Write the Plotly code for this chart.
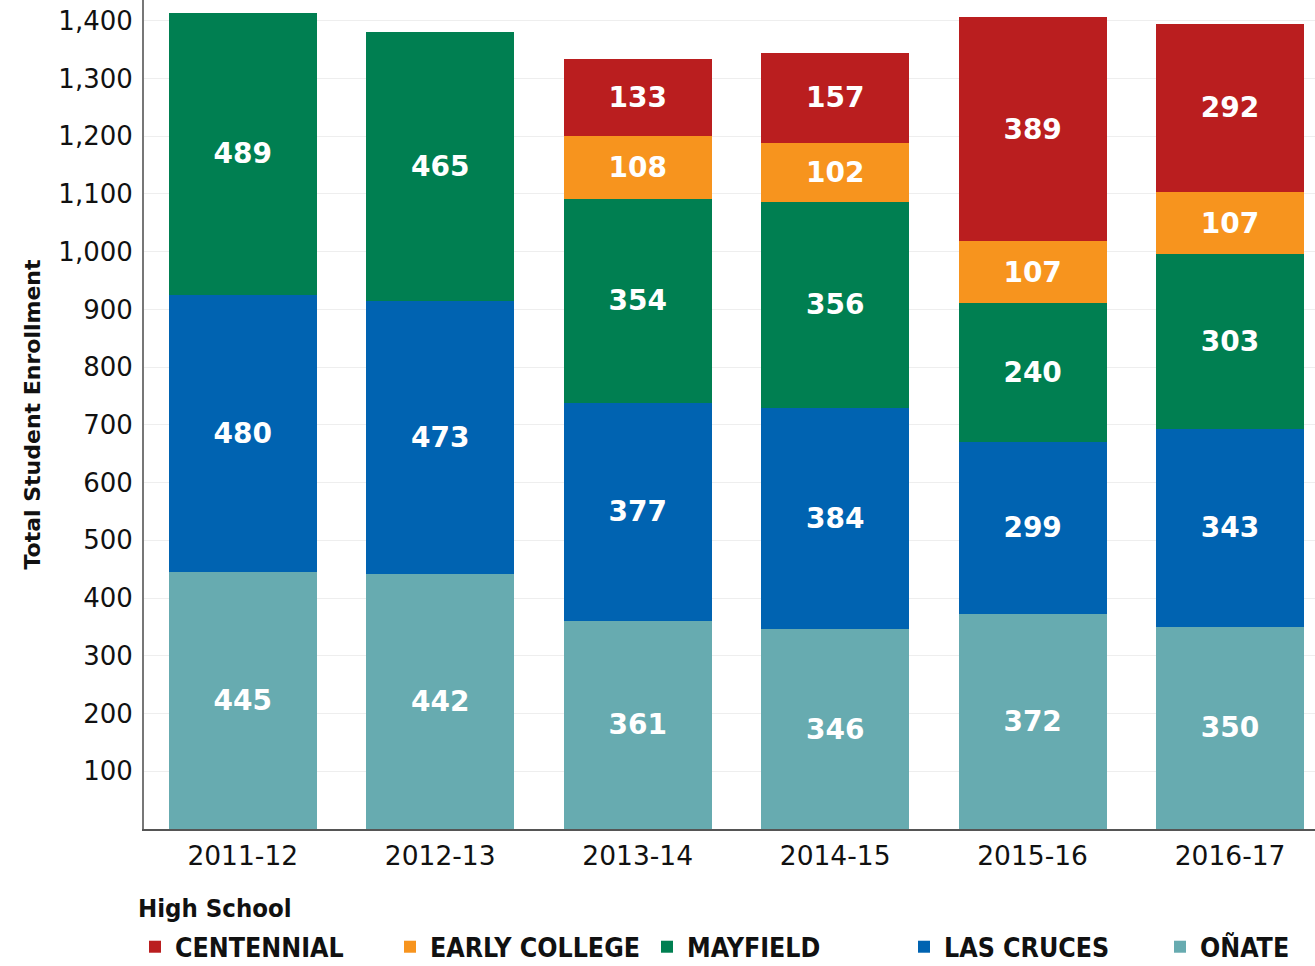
import plotly.graph_objects as go

years = ["2011-12", "2012-13", "2013-14", "2014-15", "2015-16", "2016-17"]
onate = [445, 442, 361, 346, 372, 350]
las_cruces = [480, 473, 377, 384, 299, 343]
mayfield = [489, 465, 354, 356, 240, 303]
early_college = [None, None, 108, 102, 107, 107]
centennial = [None, None, 133, 157, 389, 292]

series = [
    ("OÑATE", onate, "#67ABB0"),
    ("LAS CRUCES", las_cruces, "#0063B1"),
    ("MAYFIELD", mayfield, "#007F51"),
    ("EARLY COLLEGE", early_college, "#F7941E"),
    ("CENTENNIAL", centennial, "#BA1E1F"),
]
# legend slot (left to right) for each series
legend_slot = {"CENTENNIAL": 0, "EARLY COLLEGE": 1, "MAYFIELD": 2, "LAS CRUCES": 3, "OÑATE": 4}
legend_px = [135, 390, 647, 904, 1160]

PLOT_L, PLOT_W, PLOT_H = 144, 1171, 829

fig = go.Figure()
layout_legends = {}
for name, vals, color in series:
    slot = legend_slot[name]
    key = "legend" if slot == 0 else f"legend{slot + 1}"
    fig.add_trace(go.Bar(
        x=years, y=vals, name=name, legend=key,
        marker=dict(color=color, line=dict(width=0)),
        text=[("" if v is None else str(v)) for v in vals],
        textposition="inside", insidetextanchor="middle",
        textfont=dict(family="DejaVu Sans", size=28, color="white", weight="bold"),
        hoverinfo="skip",
    ))
    layout_legends[key] = dict(
        orientation="h", x=(legend_px[slot] - PLOT_L) / PLOT_W, xanchor="left",
        y=(PLOT_H - 947) / PLOT_H, yanchor="middle",
        font=dict(family="DejaVu Sans Condensed", size=26.5, color="#111111", weight="bold"),
        itemwidth=30, bgcolor="rgba(0,0,0,0)",
    )

fig.update_layout(
    barmode="stack", bargap=0.25,
    width=1315, height=966,
    margin=dict(l=144, r=0, t=0, b=137, autoexpand=False),
    plot_bgcolor="white", paper_bgcolor="white",
    font=dict(family="DejaVu Sans", color="#111111"),
    showlegend=True,
    annotations=[dict(
        text="<b>High School</b>", xref="paper", yref="paper",
        x=(136 - PLOT_L) / PLOT_W, y=(PLOT_H - 908) / PLOT_H,
        xanchor="left", yanchor="middle", showarrow=False,
        font=dict(family="DejaVu Sans Condensed", size=25.5, color="#111111"),
    )],
    **layout_legends,
)
fig.update_xaxes(
    type="category", range=[-0.5, 5.43], showline=True, linecolor="#555555", linewidth=2,
    tickfont=dict(family="DejaVu Sans", size=26.5, color="#111111"),
    ticklabelstandoff=2, showgrid=False, automargin=False,
)
fig.update_yaxes(
    range=[0, 1436], tickvals=list(range(100, 1500, 100)),
    tickformat=",d", showline=True, linecolor="#777777", linewidth=2,
    gridcolor="#EEEEEE", gridwidth=1, zeroline=False,
    tickfont=dict(family="DejaVu Sans", size=26, color="#111111"),
    ticklabelstandoff=4, automargin=False,
    title=dict(text="<b>Total Student Enrollment</b>", standoff=12,
               font=dict(family="DejaVu Sans", size=22, color="#111111")),
)

fig.write_html("out.html", config={"displayModeBar": False},
               post_script="document.body.style.margin='0px';")
